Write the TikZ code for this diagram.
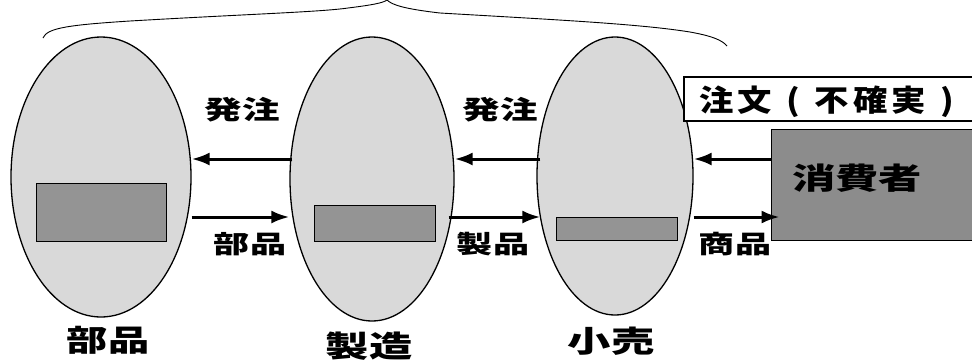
\documentclass[tikz,border=0pt]{standalone}
\usepackage{fontspec}
\usepackage{graphicx}
\newfontfamily\cjk{Noto Sans CJK JP}
\usetikzlibrary{shapes.geometric,arrows.meta}
\newcommand{\jtxt}[3]{\fontsize{#1}{#1}\selectfont\scalebox{#2}[1]{#3}}
\newcommand{\slotc}[1]{\makebox[38.5bp]{\scalebox{1.15}[1]{#1}}}
\begin{document}
\begin{tikzpicture}[x=1bp,y=-1bp,
  oval/.style={ellipse,draw,line width=1.3bp,fill=black!15,inner sep=0},
  inbox/.style={rectangle,draw,line width=0.9bp,fill=black!42,inner sep=0},
  arr/.style={line width=3bp,-{Latex[length=18bp,width=13bp]}},
  lab/.style={inner sep=0,font=\cjk\bfseries}]
\useasboundingbox (0,0) rectangle (972,359);
\clip (0,0) rectangle (972,359);
% brace
\draw[line width=0.9bp] (43,38) .. controls (47,28) and (68,25) .. (130,21)
  .. controls (250,14) and (320,12) .. (348,8)
  .. controls (372,5) and (383,3) .. (387,0)
  .. controls (392,5) and (405,9) .. (440,13)
  .. controls (560,20) and (640,24) .. (690,32)
  .. controls (712,36) and (722,40) .. (727,46);
% ellipses
\node[oval,minimum width=180bp,minimum height=280bp] (e1) at (101,177) {};
\node[oval,minimum width=164bp,minimum height=284bp] (e2) at (372,179) {};
\node[oval,minimum width=156bp,minimum height=278bp] (e3) at (615,176) {};
% inner boxes
\node[inbox,minimum width=130bp,minimum height=58bp] (r1) at (101,212) {};
\node[inbox,minimum width=121bp,minimum height=36bp] (r2) at (374.5,223) {};
\node[inbox,minimum width=121bp,minimum height=23bp] (r3) at (616.5,228.5) {};
% consumer box and order box
\node[rectangle,draw,line width=0.9bp,fill=black!45,minimum width=219bp,minimum height=111bp,inner sep=0] (cons) at (880.5,184.5) {};
\node[lab] (ct) at (857,178) {\jtxt{30}{1.45}{消費者}};
\node[rectangle,draw,line width=1.2bp,fill=white,minimum width=300bp,minimum height=44bp,inner sep=0] (ord) at (834,99) {};
\node[lab] (ot) at (832,101.5) {\fontsize{30}{30}\selectfont\slotc{注}\slotc{文}\slotc{(}\slotc{不}\slotc{確}\slotc{実}\slotc{)}};
% arrows
\coordinate (ty) at (0,159);
\coordinate (by) at (0,217);
\draw[arr,shorten <=-3bp] (e2.west |- ty) -- (e1.east |- ty);
\draw[arr,shorten <=-4bp] (e3.west |- ty) -- (e2.east |- ty);
\draw[arr] (cons.west |- ty) -- (e3.east |- ty);
\draw[arr] (e1.east |- by) -- (e2.west |- by);
\draw[arr,shorten <=-6bp,shorten >=-4bp] (e2.east |- by) -- (e3.west |- by);
\draw[arr,shorten >=-9bp] (e3.east |- by) -- (cons.west |- by);
% arrow labels
\node[lab] (a1) at (242,110) {\jtxt{26}{1.45}{発注}};
\node[lab] (a2) at (500,110) {\jtxt{26}{1.45}{発注}};
\node[lab] (b1) at (250,244) {\jtxt{25}{1.45}{部品}};
\node[lab] (b2) at (493,244) {\jtxt{25}{1.45}{製品}};
\node[lab] (b3) at (735,244) {\jtxt{25}{1.45}{商品}};
% bottom labels
\node[lab] (l1) at (108,340) {\jtxt{30}{1.38}{部品}};
\node[lab] (l2) at (369,346) {\jtxt{30}{1.45}{製造}};
\node[lab] (l3) at (611,341) {\jtxt{30}{1.45}{小売}};
\end{tikzpicture}
\end{document}
